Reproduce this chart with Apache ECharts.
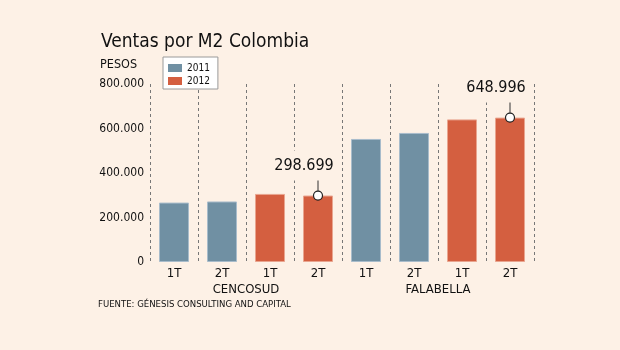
<!DOCTYPE html>
<html>
<head>
<meta charset="utf-8">
<script src="https://cdn.jsdelivr.net/npm/echarts@6/dist/echarts.min.js"></script>
<style>
  html, body { margin: 0; padding: 0; background: #fdf1e6; }
  #chart { width: 620px; height: 350px; }
</style>
</head>
<body>
<div id="chart"></div>
<script>
// datos
var trimestres = ['1T', '2T', '1T', '2T', '1T', '2T', '1T', '2T'];
var empresas = ['CENCOSUD', 'FALABELLA'];
var ventas2011 = [267000, 272000, '-', '-', 553000, 580000, '-', '-'];
var ventas2012 = ['-', '-', 306000, 298699, '-', '-', 641000, 648996];
var destacados = [[3, 298699], [7, 648996]];

var FONT = '"DejaVu Sans Condensed", "DejaVu Sans", sans-serif';

function puntos(v) {
  return String(v).replace(/\B(?=(\d{3})+(?!\d))/g, '.');
}

var chart = echarts.init(document.getElementById('chart'));
chart.setOption({
  backgroundColor: '#fdf1e6',
  textStyle: { fontFamily: FONT },
  animation: false,
  graphic: [
    { type: 'text', left: 101, top: 33, style: { text: 'Ventas por M2 Colombia', font: '19px ' + FONT, fill: '#111' } },
    { type: 'text', left: 100, top: 58, style: { text: 'PESOS', font: '12.5px ' + FONT, fill: '#111' } },
    { type: 'text', left: 98, top: 300, style: { text: 'FUENTE: GÉNESIS CONSULTING AND CAPITAL', font: '9.5px ' + FONT, fill: '#111' } }
  ],
  legend: {
    left: 163, top: 57,
    orient: 'vertical',
    backgroundColor: '#ffffff',
    borderColor: '#9a9a9a',
    borderWidth: 1,
    padding: [6, 8, 3, 5],
    icon: 'rect',
    itemWidth: 14, itemHeight: 8, itemGap: 3,
    itemStyle: { borderWidth: 0 },
    textStyle: { fontSize: 10, color: '#111' },
    data: ['2011', '2012']
  },
  grid: { left: 150, right: 86, top: 84, bottom: 88 },
  xAxis: [
    {
      type: 'category',
      data: trimestres,
      axisLine: { show: false },
      axisTick: { show: false },
      axisLabel: { fontSize: 13, color: '#111', margin: 5 },
      splitLine: { show: true, interval: 0, lineStyle: { color: '#777', type: [3, 3], width: 1 } }
    },
    {
      type: 'category',
      position: 'bottom',
      offset: 16,
      data: empresas,
      axisLine: { show: false },
      axisTick: { show: false },
      axisLabel: { fontSize: 13, color: '#111', margin: 5 },
      splitLine: { show: false }
    }
  ],
  yAxis: {
    type: 'value',
    min: 0, max: 800000, interval: 200000,
    axisLine: { show: false },
    axisTick: { show: false },
    splitLine: { show: false },
    axisLabel: { fontSize: 12, color: '#111', margin: 6, formatter: puntos }
  },
  series: [
    {
      name: '2011', type: 'bar', xAxisIndex: 0, data: ventas2011,
      barWidth: 30, barGap: '-100%',
      itemStyle: { color: '#7090a3', borderColor: '#a8bccb', borderWidth: 1 }
    },
    {
      name: '2012', type: 'bar', xAxisIndex: 0, data: ventas2012,
      barWidth: 30, barGap: '-100%',
      itemStyle: { color: '#d45f40', borderColor: '#e9a58f', borderWidth: 1 }
    },
    {
      type: 'custom', xAxisIndex: 0, data: destacados, z: 10,
      renderItem: function (params, api) {
        var p = api.coord([api.value(0), api.value(1)]);
        return {
          type: 'group',
          children: [
            { type: 'line', shape: { x1: p[0], y1: p[1] - 4, x2: p[0], y2: p[1] - 20 }, style: { stroke: '#333', lineWidth: 1 } },
            { type: 'circle', shape: { cx: p[0], cy: p[1], r: 4.5 }, style: { fill: '#fff', stroke: '#222', lineWidth: 1.2 } },
            {
              type: 'text', x: p[0] - 14, y: p[1] - 30,
              style: {
                text: puntos(api.value(1)), font: '16px ' + FONT, fill: '#111',
                align: 'center', verticalAlign: 'middle',
                backgroundColor: '#fdf1e6', padding: [7, 3, 7, 3]
              }
            }
          ]
        };
      }
    }
  ]
});
</script>
</body>
</html>
